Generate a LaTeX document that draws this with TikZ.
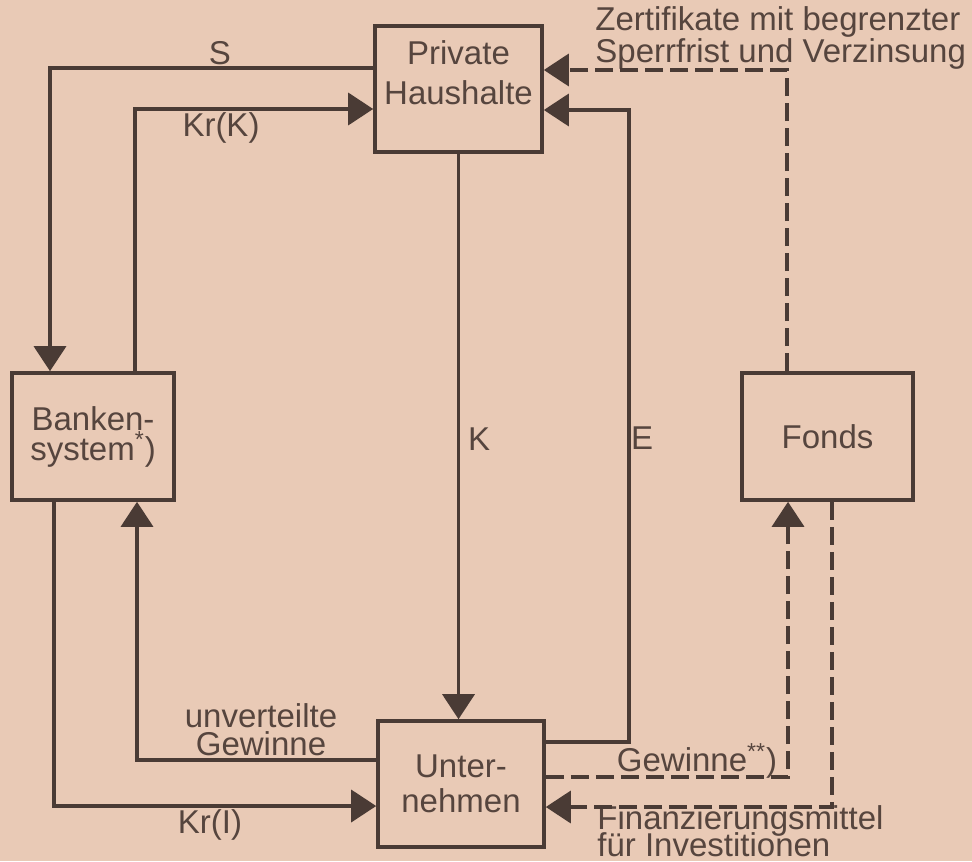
\documentclass[tikz,border=0pt]{standalone}
\usepackage{fontspec}
\setmainfont{Liberation Sans}
\usepackage{xcolor}
\definecolor{papier}{HTML}{E9CAB6}
\definecolor{tinte}{HTML}{4A3B35}
\definecolor{schrift}{HTML}{56453E}
\def\maulinie{tinte}
\def\mautext{schrift}
\def\grad#1{\fontsize{16.5pt}{#1}\selectfont\lineskiplimit=-20pt}
\usetikzlibrary{arrows.meta,calc}

\begin{document}
\begin{tikzpicture}[x=.5pt,y=-.5pt,font=\grad{16pt},
	kasten/.style 2 args={draw=\maulinie,line width=1.8pt,align=center,inner sep=0pt,text=\mautext,minimum width=#1,minimum height=#2},
	fluss/.style={draw=\maulinie,line width=1.7pt,-{Triangle[length=12.5pt,width=16pt]}},
	strich/.style={dash pattern=on 9pt off 3.5pt},
	marke/.style={text=\mautext,inner sep=0pt,align=left}]
		\path[fill=papier] (0,0) rectangle (972,861);
		\useasboundingbox (0,0) rectangle (972,861);
		\path (458.5,89) node[kasten={83.5pt}{63pt},font=\grad{20pt},text height=24pt,text depth=8pt] (hh) {Private\\Haushalte}
		(93,436.5) node[kasten={81pt}{63.5pt},font=\grad{15pt}] (bank) {Banken-\\system\textsuperscript{*})}
		(461,784) node[kasten={83pt}{63pt},font=\grad{17.5pt}] (unt) {Unter-\\nehmen}
		(827.5,436.5) node[kasten={85.5pt}{63.5pt}] (fonds) {Fonds}
		;
		\path (220,53) node[marke] (s) {S}
		(221,128) node[marke] (krk) {Kr(K)}
		(479,439) node[marke] (k) {K}
		(642,438) node[marke] (e) {E}
		(210,825) node[marke] (kri) {Kr(I)}
		(261,730) node[marke,align=center,font=\grad{14pt}] (unv) {unverteilte\\Gewinne}
		(697,761) node[marke] (gew) {Gewinne\textsuperscript{**})}
		(595,37.5) node[marke,anchor=west] (zert) {Zertifikate mit begrenzter\\Sperrfrist und Verzinsung}
		(597,831) node[marke,anchor=west,font=\grad{13.5pt}] (fin) {Finanzierungsmittel\\für Investitionen}
		;
		\draw[fluss] ($(hh.west)+(0,-21)$) -| ($(bank.north)+(-43,0)$);
		\draw[fluss] ($(bank.north)+(42,0)$) |- ($(hh.west)+(0,20)$);
		\draw[fluss] ($(bank.south)+(-39,0)$) |- ($(unt.west)+(0,22)$);
		\draw[fluss] ($(unt.west)+(0,-24)$) -| ($(bank.south)+(44,0)$);
		\draw[fluss] (hh.south) -- (hh.south |- unt.north);
		\draw[fluss] ($(unt.east)+(0,-42)$) -| ($(hh.east)+(85,21)$) -- ($(hh.east)+(0,21)$);
		\draw[fluss,strich] ($(fonds.north)+(-40.5,0)$) |- ($(hh.east)+(0,-19)$);
		\draw[fluss,strich] ($(unt.east)+(0,-7)$) -| ($(fonds.south)+(-39.5,0)$);
		\draw[fluss,strich] ($(fonds.south)+(4.5,0)$) |- ($(unt.east)+(0,23)$);
	\end{tikzpicture}
\end{document}
